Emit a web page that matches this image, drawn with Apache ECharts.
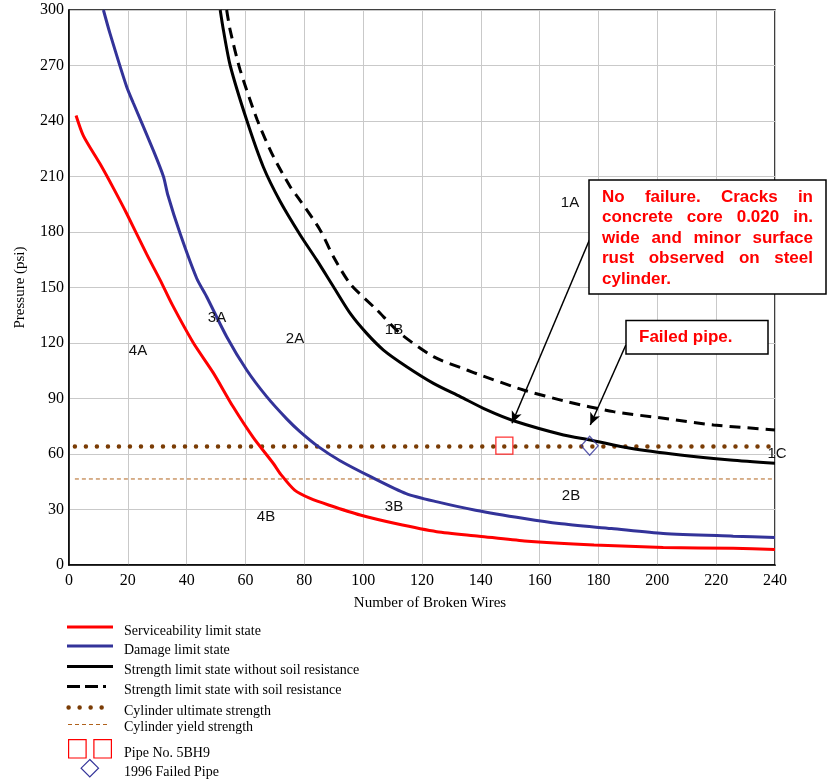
<!DOCTYPE html>
<html><head><meta charset="utf-8">
<script src="https://cdn.jsdelivr.net/npm/echarts@6/dist/echarts.min.js"></script>
<style>html,body{margin:0;padding:0;background:#fff}#c{width:827px;height:782px}</style>
</head><body><div id="c"></div>
<script>
// ---- data ----
const servX = [2.4, 4.9, 10.5, 15, 19.6, 26.4, 31, 35, 42.3, 49, 55.8, 62.6, 69.4, 72, 76.7, 82, 88.5, 99, 111, 125, 139.4, 154.8, 178.5, 202, 225.8, 240];
const servY = [243, 232, 217, 204, 190, 168, 154, 141, 120, 104, 85.5, 69, 55, 49, 40.5, 36, 32.3, 27, 22.4, 18, 15.6, 13, 10.8, 9.5, 9, 8.4];

const damX = [11.7, 13.9, 19.6, 21.9, 28.7, 32.1, 33.6, 37.8, 43.4, 46.8, 53.6, 60.4, 67.2, 74, 78.6, 85, 92, 102.7, 114.6, 125.2, 138.2, 154.8, 166.6, 184.4, 202, 225.8, 240];
const damY = [300, 287.5, 258.5, 249.6, 224, 210, 200, 179, 155, 145, 123.4, 105.4, 91, 79, 72, 63.7, 56.5, 47.6, 38.6, 34.1, 29.6, 25.1, 22.4, 19.7, 17, 15.6, 14.9];

const strX = [51.4, 52.5, 54.8, 60.4, 66.1, 71.8, 78.6, 84.2, 89.9, 95.6, 101.2, 106.9, 114.8, 123.9, 133, 142, 151.1, 168.1, 177.2, 190.8, 207.8, 224.8, 240];
const strY = [300, 289, 270, 240.5, 215, 196.5, 178.4, 164.9, 150.4, 136, 125.2, 116.2, 107.2, 98.2, 91, 83.8, 78, 70.3, 67.6, 63.1, 59.5, 56.8, 55];

const soilX = [53.6, 54.8, 58.2, 64, 69.5, 75.2, 78.6, 85.4, 89.9, 95.6, 104.7, 112.6, 123.9, 135.3, 139.8, 154.5, 169.3, 185.1, 202.1, 219.1, 240];
const soilY = [300, 289, 267.5, 240.5, 220.7, 204.5, 197, 181, 166.6, 152, 137.8, 125.2, 112.6, 105.4, 102.7, 94.6, 88.3, 82.9, 79.3, 75.7, 73];

const ultX = [2, 240];
const ultY = [64, 64];
const yieldX = [2, 240];
const yieldY = [46.5, 46.5];

const pipe5BH9 = [148, 64.5];
const failedPipe = [177, 64.5];

// arrows (data coordinates): [fromX, fromY, toX, toY]
const arrow1 = [176.9, 175.7, 150.6, 76.6];
const arrow2 = [189.3, 118.9, 177.2, 75.7];

const xTicks = [0, 240, 20];
const yTicks = [0, 300, 30];

const seriesNames = [
  'Serviceability limit state',
  'Damage limit state',
  'Strength limit state without soil resistance',
  'Strength limit state with soil resistance',
  'Cylinder ultimate strength',
  'Cylinder yield strength',
  'Pipe No. 5BH9',
  '1996 Failed Pipe'
];
const regionLabels = ['4A', '3A', '2A', '1B', '1A', '1C', '4B', '3B', '2B'];
const box1Lines = ['No failure.  Cracks in', 'concrete core 0.020 in.', 'wide and minor surface', 'rust observed on steel', 'cylinder.'];
const box2Text = 'Failed pipe.';

// ---- build ----
const pairs = (xs, ys) => xs.map((x, i) => [x, ys[i]]);
const SERIF = '"Liberation Serif", "Times New Roman", serif';
const SANS = '"Liberation Sans", Arial, sans-serif';
const BROWN = '#7a3c05';
const YIELD = '#b0621c';
const BLUE = '#333399';

const chart = echarts.init(document.getElementById('c'), null, {renderer: 'canvas'});

const lineBase = {type: 'line', showSymbol: false, symbol: 'none', smooth: 0.25, animation: false, silent: true};

// region label positions (pixels)
const regionPos = [[138, 351], [217, 318], [295, 339], [394, 330], [570, 203], [777, 454], [266, 517], [394, 507], [571, 496]];

const graphics = [];
regionLabels.forEach((t, i) => {
  graphics.push({type: 'text', x: regionPos[i][0], y: regionPos[i][1], z: 50,
    style: {text: t, font: '15px ' + SANS, fill: '#111', align: 'center', verticalAlign: 'middle'}});
});

// annotation boxes
graphics.push({type: 'rect', z: 100, shape: {x: 589, y: 180, width: 237, height: 114},
  style: {fill: '#fff', stroke: '#000', lineWidth: 1.5}});
graphics.push({type: 'rect', z: 100, shape: {x: 626, y: 320.5, width: 142, height: 33.5},
  style: {fill: '#fff', stroke: '#000', lineWidth: 1.5}});

const boldFont = 'bold 17px ' + SANS;
const mctx = document.createElement('canvas').getContext('2d');
mctx.font = boldFont;
const tLeft = 602, tRight = 813;
box1Lines.forEach((ln, i) => {
  const y = 197 + i * 20.5;
  if (i === box1Lines.length - 1) {
    graphics.push({type: 'text', z: 101, x: tLeft, y: y, style: {text: ln, font: boldFont, fill: '#ff0000', verticalAlign: 'middle'}});
    return;
  }
  const words = ln.split(/\s+/);
  const ws = words.map(w => mctx.measureText(w).width);
  const sum = ws.reduce((a, b) => a + b, 0);
  const gap = (tRight - tLeft - sum) / (words.length - 1);
  let x = tLeft;
  words.forEach((w, k) => {
    graphics.push({type: 'text', z: 101, x: x, y: y, style: {text: w, font: boldFont, fill: '#ff0000', verticalAlign: 'middle'}});
    x += ws[k] + gap;
  });
});
graphics.push({type: 'text', z: 101, x: 639, y: 337.5, style: {text: box2Text, font: boldFont, fill: '#ff0000', verticalAlign: 'middle'}});

// legend
const legX1 = 67, legX2 = 113, legTextX = 124;
const legFont = '14px ' + SERIF;
const legTextY = [631, 650, 670, 690, 711, 727, 753, 772];
graphics.push({type: 'line', shape: {x1: legX1, y1: 627, x2: legX2, y2: 627}, style: {stroke: '#ff0000', lineWidth: 3}});
graphics.push({type: 'line', shape: {x1: legX1, y1: 646, x2: legX2, y2: 646}, style: {stroke: BLUE, lineWidth: 3}});
graphics.push({type: 'line', shape: {x1: legX1, y1: 666.5, x2: legX2, y2: 666.5}, style: {stroke: '#000', lineWidth: 3}});
graphics.push({type: 'line', shape: {x1: legX1, y1: 686.5, x2: 106, y2: 686.5}, style: {stroke: '#000', lineWidth: 3, lineDash: [13, 5]}});
graphics.push({type: 'line', shape: {x1: 68.6, y1: 707.5, x2: 103, y2: 707.5}, style: {stroke: BROWN, lineWidth: 4.5, lineDash: [0.01, 11], lineCap: 'round'}});
graphics.push({type: 'line', shape: {x1: 68, y1: 724.5, x2: 110, y2: 724.5}, style: {stroke: YIELD, lineWidth: 1, lineDash: [4, 3]}});
graphics.push({type: 'rect', shape: {x: 68.6, y: 739.6, width: 17.5, height: 18.4}, style: {fill: 'none', stroke: '#ff0000', lineWidth: 1.2}});
graphics.push({type: 'rect', shape: {x: 93.9, y: 739.6, width: 17.5, height: 18.4}, style: {fill: 'none', stroke: '#ff0000', lineWidth: 1.2}});
graphics.push({type: 'polygon', shape: {points: [[89.8, 759.5], [98.5, 768.2], [89.8, 776.9], [81.1, 768.2]]}, style: {fill: 'none', stroke: BLUE, lineWidth: 1.2}});
seriesNames.forEach((n, i) => {
  graphics.push({type: 'text', x: legTextX, y: legTextY[i], style: {text: n, font: legFont, fill: '#000', verticalAlign: 'middle'}});
});

const option = {
  animation: false,
  backgroundColor: '#fff',
  grid: {left: 69, right: 52, top: 10, bottom: 217, show: true, borderColor: '#000', borderWidth: 1.5, backgroundColor: 'transparent'},
  xAxis: {
    type: 'value', min: xTicks[0], max: xTicks[1], interval: xTicks[2],
    name: 'Number of Broken Wires', nameLocation: 'middle', nameGap: 31,
    nameTextStyle: {fontFamily: SERIF, fontSize: 15, color: '#000', padding: [0, 0, 0, 16]},
    axisLine: {show: true, lineStyle: {color: '#000', width: 1.5}},
    axisTick: {show: false},
    axisLabel: {fontFamily: SERIF, fontSize: 16, color: '#000', margin: 8},
    splitLine: {show: true, lineStyle: {color: '#c9c9c9', width: 1}}
  },
  yAxis: {
    type: 'value', min: yTicks[0], max: yTicks[1], interval: yTicks[2],
    name: 'Pressure (psi)', nameLocation: 'middle', nameGap: 41,
    nameTextStyle: {fontFamily: SERIF, fontSize: 15, color: '#000'},
    axisLine: {show: true, lineStyle: {color: '#000', width: 1.5}},
    axisTick: {show: false},
    axisLabel: {fontFamily: SERIF, fontSize: 16, color: '#000', margin: 5, padding: [3, 0, 0, 0]},
    splitLine: {show: true, lineStyle: {color: '#c9c9c9', width: 1}}
  },
  series: [
    Object.assign({}, lineBase, {name: seriesNames[0], data: pairs(servX, servY), z: 5, lineStyle: {color: '#ff0000', width: 3}}),
    Object.assign({}, lineBase, {name: seriesNames[1], data: pairs(damX, damY), z: 5, lineStyle: {color: BLUE, width: 3}}),
    Object.assign({}, lineBase, {name: seriesNames[2], data: pairs(strX, strY), z: 5, lineStyle: {color: '#000', width: 3}}),
    Object.assign({}, lineBase, {name: seriesNames[3], data: pairs(soilX, soilY), z: 5, lineStyle: {color: '#000', width: 3, type: [11, 7]}}),
    Object.assign({}, lineBase, {name: seriesNames[4], smooth: false, data: pairs(ultX, ultY), z: 4, lineStyle: {color: BROWN, width: 4.5, type: [0.01, 11], cap: 'round'}}),
    Object.assign({}, lineBase, {name: seriesNames[5], smooth: false, data: pairs(yieldX, yieldY), z: 4, lineStyle: {color: YIELD, width: 1, type: [4, 3]}}),
    {type: 'scatter', name: seriesNames[6], data: [pipe5BH9], symbol: 'rect', symbolSize: 17, z: 6, silent: true,
      itemStyle: {color: 'rgba(0,0,0,0)', borderColor: '#ff0000', borderWidth: 1.3}},
    {type: 'scatter', name: seriesNames[7], data: [failedPipe], symbol: 'diamond', symbolSize: [17, 19], z: 6, silent: true,
      itemStyle: {color: 'rgba(0,0,0,0)', borderColor: BLUE, borderWidth: 1.3}},
    {type: 'line', name: 'arrows', data: [], silent: true, z: 7,
      markLine: {silent: true, animation: false, symbol: ['none', 'arrow'], symbolSize: [8, 12], label: {show: false},
        lineStyle: {color: '#000', width: 1.5, type: 'solid'},
        data: [
          [{coord: [arrow1[0], arrow1[1]]}, {coord: [arrow1[2], arrow1[3]]}],
          [{coord: [arrow2[0], arrow2[1]]}, {coord: [arrow2[2], arrow2[3]]}]
        ]}}
  ],
  graphic: graphics
};
chart.setOption(option);
</script></body></html>
